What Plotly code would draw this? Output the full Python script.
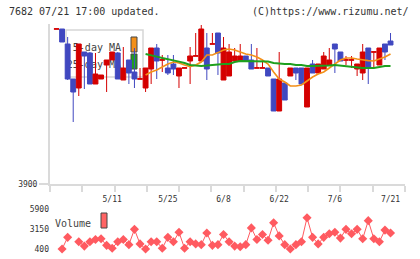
import numpy as np
import plotly.graph_objects as go

# ---------------- data ----------------
dates = [
    "2015-04-21", "2015-04-22", "2015-04-23", "2015-04-24", "2015-04-27", "2015-04-28", "2015-04-30",
    "2015-05-01", "2015-05-07", "2015-05-08", "2015-05-11", "2015-05-12", "2015-05-13", "2015-05-14",
    "2015-05-15", "2015-05-18", "2015-05-19", "2015-05-20", "2015-05-21", "2015-05-22", "2015-05-25",
    "2015-05-26", "2015-05-27", "2015-05-28", "2015-05-29", "2015-06-01", "2015-06-02", "2015-06-03",
    "2015-06-04", "2015-06-05", "2015-06-08", "2015-06-09", "2015-06-10", "2015-06-11", "2015-06-12",
    "2015-06-15", "2015-06-16", "2015-06-17", "2015-06-18", "2015-06-19", "2015-06-22", "2015-06-23",
    "2015-06-24", "2015-06-25", "2015-06-26", "2015-06-29", "2015-06-30", "2015-07-01", "2015-07-02",
    "2015-07-03", "2015-07-06", "2015-07-07", "2015-07-08", "2015-07-09", "2015-07-10", "2015-07-13",
    "2015-07-14", "2015-07-15", "2015-07-16", "2015-07-17", "2015-07-21",
]

open_ = [4674, 4675, 4600, 4425, 4380, 4560, 4555, 4400, 4425, 4495, 4520, 4555, 4420, 4520, 4460,
         4424, 4380, 4475, 4580, 4519, 4480, 4500, 4440, 4479, 4515, 4539, 4515, 4580, 4599, 4655,
         4420, 4440, 4515, 4515, 4540, 4520, 4479, 4479, 4480, 4425, 4265, 4405, 4440, 4480, 4480,
         4285, 4500, 4455, 4475, 4495, 4600, 4560, 4519, 4519, 4475, 4455, 4580, 4559, 4495, 4600,
         4615]
high = [4676, 4675, 4635, 4425, 4600, 4560, 4560, 4555, 4445, 4520, 4560, 4560, 4585, 4520, 4580,
        4480, 4480, 4580, 4600, 4545, 4545, 4545, 4480, 4481, 4585, 4655, 4695, 4655, 4655, 4655,
        4635, 4600, 4580, 4600, 4540, 4600, 4580, 4520, 4480, 4425, 4560, 4405, 4480, 4480, 4480,
        4480, 4520, 4500, 4560, 4580, 4600, 4560, 4540, 4540, 4500, 4600, 4580, 4561, 4580, 4600,
        4655]
low = [4674, 4610, 4420, 4210, 4340, 4375, 4400, 4400, 4425, 4360, 4520, 4425, 4420, 4400, 4380,
       4424, 4360, 4400, 4425, 4460, 4445, 4445, 4380, 4479, 4400, 4539, 4515, 4420, 4599, 4445,
       4420, 4440, 4515, 4515, 4515, 4475, 4479, 4479, 4440, 4265, 4265, 4320, 4440, 4420, 4400,
       4285, 4455, 4455, 4475, 4495, 4455, 4515, 4495, 4480, 4440, 4420, 4400, 4480, 4495, 4520,
       4595]
close = [4676, 4610, 4425, 4360, 4600, 4540, 4400, 4450, 4445, 4520, 4560, 4425, 4480, 4455, 4425,
         4426, 4480, 4580, 4515, 4521, 4455, 4475, 4480, 4481, 4540, 4541, 4675, 4475, 4601, 4555,
         4580, 4560, 4540, 4540, 4515, 4475, 4481, 4481, 4440, 4265, 4425, 4320, 4480, 4455, 4400,
         4480, 4455, 4500, 4540, 4520, 4575, 4515, 4521, 4521, 4500, 4560, 4480, 4561, 4580, 4560,
         4595]

# moving averages (None where hidden behind the legend box)
ma5 = [None, 4655] + [None] * 14 + [
    4445, 4460, 4470, 4485, 4500, 4510, 4505, 4495, 4487, 4495, 4510, 4545, 4545, 4557, 4570,
    4575, 4570, 4560, 4550, 4545, 4535, 4520, 4500, 4460, 4425, 4410, 4390, 4390, 4395, 4415,
    4435, 4450, 4460, 4480, 4500, 4520, 4530, 4530, 4525, 4520, 4517, 4515, 4525, 4535, 4550]
ma25 = [None, 4600] + [None] * 14 + [
    4550, 4545, 4537, 4530, 4525, 4520, 4512, 4505, 4495, 4492, 4490, 4492, 4495, 4500, 4500,
    4500, 4510, 4515, 4515, 4515, 4515, 4515, 4512, 4505, 4502, 4500, 4500, 4495, 4495, 4490,
    4490, 4490, 4490, 4492, 4495, 4492, 4490, 4485, 4485, 4480, 4480, 4480, 4485, 4490, 4490]

volume = [None, 400, 2000, None, 1400, 800, 1400, 1700, 1800, 900, 500, 1400, 1700, 1000, 3100,
          1100, 400, 1400, 1400, 500, 2000, 1400, 2700, 500, 1400, 1100, 1000, 2600, 900, 1000,
          2400, 1400, 800, 700, 1000, 3300, 1700, 2400, 1600, 4000, 2200, 1000, 400, 1000, 1400,
          4700, 2000, 1100, 2000, 2500, 2700, 1900, 3100, 2500, 3100, 1800, 4300, 1800, 1400, 3000,
          2600]

tick_dates = ["2015-05-11", "2015-05-25", "2015-06-08", "2015-06-22", "2015-07-06", "2015-07-21"]
tick_labels = ["5/11", "5/25", "6/8", "6/22", "7/6", "7/21"]
price_ticks = [3900]
volume_ticks = [400, 3150, 5900]

# ---------------- figure ----------------
xi = list(range(len(dates)))
tick_pos = [dates.index(d) for d in tick_dates]

RED = "#d40000"
BLUE = "#4048c0"
ORANGE = "#f39019"
GREEN = "#1ea01e"
VOL = "#ff5a60"
AXIS = "#dadada"
TXT = "#333333"
MONO = "DejaVu Sans Mono"

fig = go.Figure()
fig.add_trace(go.Scatter(x=xi, y=ma5, mode="lines", name="5-day MA",
                         line=dict(color=ORANGE, width=1.6), connectgaps=False,
                         hoverinfo="skip", showlegend=False))
fig.add_trace(go.Scatter(x=xi, y=ma25, mode="lines", name="25-day MA",
                         line=dict(color=GREEN, width=2), connectgaps=False,
                         hoverinfo="skip", showlegend=False))
fig.add_trace(go.Candlestick(
    x=xi, open=open_, high=high, low=low, close=close, name="7682",
    text=dates, hoverinfo="text+y",
    increasing=dict(line=dict(color=RED, width=1), fillcolor=RED),
    decreasing=dict(line=dict(color=BLUE, width=1), fillcolor=BLUE),
    whiskerwidth=0, showlegend=False))
fig.add_trace(go.Scatter(x=xi, y=volume, mode="lines+markers", name="Volume",
                         xaxis="x2", yaxis="y2", connectgaps=False,
                         line=dict(color=VOL, width=1),
                         marker=dict(symbol="diamond", size=7, color=VOL),
                         text=dates, showlegend=False))

W, H = 420, 259
L, R, T, B = 50, 15, 24, 4
PW, PH = W - L - R, H - T - B


def fx(px):
    return (px - L) / PW


def fy(py):
    return (H - B - py) / PH


x_range = [-1.17, 62.6]
minor_vals = list(np.linspace(x_range[0], x_range[1], 12))

fig.update_layout(
    width=W, height=H, margin=dict(l=L, r=R, t=T, b=B, autoexpand=False),
    paper_bgcolor="white", plot_bgcolor="white",
    boxgap=0.08, boxgroupgap=0.05,
    font=dict(family=MONO, size=8, color=TXT),
    xaxis=dict(domain=[0, 1], anchor="y", range=x_range, rangeslider=dict(visible=False),
               showline=True, linecolor=AXIS, linewidth=2, showgrid=False, zeroline=False,
               tickmode="array", tickvals=tick_pos, ticktext=tick_labels, ticks="",
               ticklabelstandoff=6, tickfont=dict(family=MONO, size=8, color=TXT),
               automargin=False,
               minor=dict(tickmode="array", tickvals=minor_vals, ticks="outside",
                          ticklen=6, tickcolor=AXIS, tickwidth=2, showgrid=False)),
    yaxis=dict(domain=[fy(184), 1], anchor="x", range=[3900, 4700], automargin=False,
               showline=True, linecolor=AXIS, linewidth=2, showgrid=False, zeroline=False,
               tickmode="array", tickvals=price_ticks, ticks="outside", ticklen=9,
               tickcolor=AXIS, tickwidth=2, tickfont=dict(family=MONO, size=8, color=TXT)),
    xaxis2=dict(domain=[0, 1], anchor="y2", range=x_range, matches="x", automargin=False,
                showline=False, showgrid=False, zeroline=False, showticklabels=False,
                ticks="", rangeslider=dict(visible=False)),
    yaxis2=dict(domain=[0, fy(203)], anchor="x2", range=[-425, 6725], automargin=False,
                showline=False, showgrid=False, zeroline=False,
                tickmode="array", tickvals=volume_ticks, ticks="",
                tickfont=dict(family=MONO, size=8, color=TXT)),
    hovermode="closest",
)

label_font = dict(family=MONO, size=10, color="#444444")
shapes = [
    # legend box for MAs
    dict(type="rect", xref="paper", yref="paper", x0=fx(66), x1=fx(143), y0=fy(77), y1=fy(30),
         line=dict(color="#d6d6d6", width=1.5), fillcolor="white", layer="below"),
    dict(type="rect", xref="paper", yref="paper", x0=fx(66), x1=fx(127), y0=fy(54), y1=fy(38),
         line=dict(width=0), fillcolor="rgba(0,0,0,0)", layer="below",
         label=dict(text="5-day MA", textposition="middle right", font=label_font)),
    dict(type="rect", xref="paper", yref="paper", x0=fx(66), x1=fx(127), y0=fy(71), y1=fy(55),
         line=dict(width=0), fillcolor="rgba(0,0,0,0)", layer="below",
         label=dict(text="25-day MA", textposition="middle right", font=label_font)),
    dict(type="rect", xref="paper", yref="paper", x0=fx(131), x1=fx(137), y0=fy(52), y1=fy(37),
         line=dict(color="#444444", width=1), fillcolor=ORANGE, layer="below"),
    dict(type="rect", xref="paper", yref="paper", x0=fx(131), x1=fx(137), y0=fy(69), y1=fy(54),
         line=dict(color="#444444", width=1), fillcolor=GREEN, layer="below"),
    # volume legend
    dict(type="rect", xref="paper", yref="paper", x0=fx(54), x1=fx(97), y0=fy(230), y1=fy(214),
         line=dict(width=0), fillcolor="rgba(0,0,0,0)", layer="below",
         label=dict(text="Volume", textposition="middle right", font=label_font)),
    dict(type="rect", xref="paper", yref="paper", x0=fx(101), x1=fx(107), y0=fy(228), y1=fy(213),
         line=dict(color="#444444", width=1), fillcolor="#ff6464", layer="below"),
]
fig.update_layout(shapes=shapes)

fig.add_annotation(text="7682 07/21 17:00 updated.", xref="paper", yref="paper",
                   x=fx(7), y=fy(12), xanchor="left", yanchor="middle", showarrow=False,
                   font=dict(family=MONO, size=10, color=TXT))
fig.add_annotation(text="(C)https://www.rizumu.net/", xref="paper", yref="paper",
                   x=fx(411), y=fy(12), xanchor="right", yanchor="middle", showarrow=False,
                   font=dict(family=MONO, size=10, color=TXT))

fig.write_html("out.html")
